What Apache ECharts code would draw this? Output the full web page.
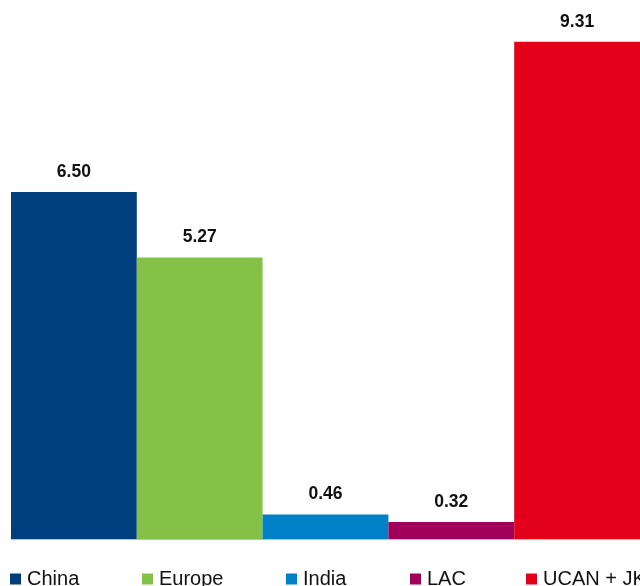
<!DOCTYPE html>
<html>
<head>
<meta charset="utf-8">
<script src="https://cdn.jsdelivr.net/npm/echarts@6/dist/echarts.min.js"></script>
<style>
html,body{margin:0;padding:0;background:#fff;}
#chart{width:640px;height:586px;}
</style>
</head>
<body>
<div id="chart"></div>
<script>
const regions = ['China', 'Europe', 'India', 'LAC', 'UCAN + JK'];
const values = [6.50, 5.27, 0.46, 0.32, 9.31];
const colors = ['#003E7E', '#84C247', '#0080C6', '#A0005A', '#E2001A'];
const legendLeft = [10, 142, 286, 410, 526];

const chart = echarts.init(document.getElementById('chart'), null, {renderer: 'canvas'});
const series = regions.map((name, i) => ({
  name: name,
  type: 'bar',
  data: [values[i]],
  barGap: '0%',
  barCategoryGap: '0%',
  itemStyle: {color: colors[i]},
  label: {
    show: true,
    position: 'top',
    distance: 11,
    formatter: p => p.value.toFixed(2),
    color: '#111',
    fontFamily: 'Liberation Sans, Arial, sans-serif',
    fontWeight: 'bold',
    fontSize: 17.5
  }
}));
const legends = regions.map((name, i) => ({
  data: [name],
  left: legendLeft[i],
  top: 569,
  padding: 0,
  itemWidth: 11,
  itemHeight: 11,
  icon: 'rect',
  itemGap: 0,
  textStyle: {
    fontFamily: 'Liberation Sans, Arial, sans-serif',
    fontSize: 20,
    color: '#111',
    padding: [0, 0, 0, 1]
  }
}));
chart.setOption({
  animation: false,
  backgroundColor: '#fff',
  grid: {left: 11, width: 630, top: 5, bottom: 47, containLabel: false},
  legend: legends,
  xAxis: {
    type: 'category',
    data: [''],
    axisLine: {show: true, lineStyle: {color: '#c0c0c0', width: 1}},
    axisTick: {show: false},
    axisLabel: {show: false}
  },
  yAxis: {
    type: 'value',
    min: 0,
    max: 10,
    show: false,
    splitLine: {show: false}
  },
  series: series
});
</script>
</body>
</html>
